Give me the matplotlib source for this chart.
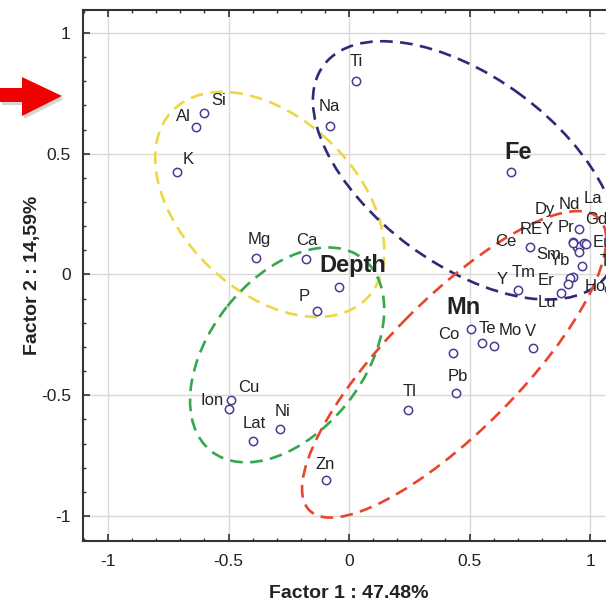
import numpy as np
import matplotlib.pyplot as plt
from matplotlib.patches import Ellipse, Polygon
from matplotlib.ticker import MultipleLocator

plt.rcParams['font.family'] = ['Liberation Sans', 'DejaVu Sans']

# factor loadings (Factor 1, Factor 2)
names = ['Ti', 'Na', 'Si', 'Al', 'K', 'Mg', 'Ca', 'Depth', 'P', 'Cu', 'Ion', 'Lat',
         'Ni', 'Zn', 'Tl', 'Pb', 'Co', 'Mn', 'Te', 'Mo', 'V', 'Fe', 'Ce', 'REY',
         'Pr', 'Dy', 'Nd', 'La', 'Gd', 'Eu', 'Sm', 'Yb', 'Y', 'Tm', 'Er', 'Lu',
         'Ho', 'Tb']
f1 = [0.03, -0.08, -0.60, -0.635, -0.715, -0.385, -0.18, -0.04, -0.135, -0.49, -0.50, -0.40,
      -0.286, -0.095, 0.245, 0.445, 0.43, 0.505, 0.55, 0.60, 0.763, 0.672, 0.75, 0.93,
      0.954, 0.946, 0.959, 0.93, 0.976, 0.985, 0.954, 0.967, 0.70, 0.93, 0.917, 0.88,
      1.08, 0.908]
f2 = [0.80, 0.615, 0.67, 0.61, 0.425, 0.07, 0.065, -0.05, -0.15, -0.52, -0.555, -0.69,
      -0.64, -0.85, -0.56, -0.49, -0.325, -0.225, -0.285, -0.295, -0.304, 0.425, 0.114, 0.135,
      0.188, 0.114, 0.118, 0.131, 0.131, 0.128, 0.093, 0.035, -0.065, -0.01, -0.014, -0.077,
      -0.06, -0.04]

# label offsets in points (dx, dy) from each marker
lab_dx = [0, 0, 10, -9, 8, 2, 1, 10, -9, 13, -12, 1,
          2, -1, 1, 1, -3, -5, 4, 12, -2, 5, -17, -26,
          -9, -23, -8, 14, 9, 12, -22, -16, -11, -36, -17, -10,
          -10, 30]
lab_dy = [14, 14, 9, 8, 9, 13, 13, 15, 10, 9, 6, 13,
          13, 11, 13, 12, 13, 15, 11, 11, 12, 14, 4, 9,
          1, 27, 30, 32, 17, 1, -1.5, 4, 8, 3, -2, -7,
          2, 16]
bold = {'Depth', 'Mn', 'Fe'}

# group ellipses: centre x, centre y, width, height, angle
ell_cx = [-0.329, 0.482, 0.436, -0.257]
ell_cy = [0.290, 0.431, -0.372, -0.333]
ell_w = [1.120, 1.462, 1.704, 1.016]
ell_h = [0.720, 0.777, 0.548, 0.639]
ell_ang = [136.4, 143.6, -134.8, -128.4]
ell_col = ['#ecd846', '#2d2a7a', '#e8452c', '#35a84f']

fig = plt.figure(figsize=(6.06, 6.03), dpi=100)
ax = fig.add_axes([0.1375, 0.1028, 0.876, 0.8806])
ax.set_xlim(-1.1025, 1.1)
ax.set_ylim(-1.1035, 1.095)

ax.xaxis.set_major_locator(MultipleLocator(0.5))
ax.yaxis.set_major_locator(MultipleLocator(0.5))
ax.xaxis.set_minor_locator(MultipleLocator(0.1))
ax.yaxis.set_minor_locator(MultipleLocator(0.1))
ax.xaxis.set_major_formatter(lambda v, p: f'{v:g}')
ax.yaxis.set_major_formatter(lambda v, p: f'{v:g}')
ax.tick_params(which='both', direction='in', top=True, right=True, colors='#333333',
               labelcolor='#222222', labelsize=12.5)
ax.tick_params(which='major', length=5, width=1.2, pad=9)
ax.tick_params(which='minor', length=2.5, width=1)
ax.grid(True, which='major', color='#dcd8d4', lw=1)
ax.set_axisbelow(True)
for s in ax.spines.values():
    s.set_color('#333333')
    s.set_linewidth(1.5)

for cx, cy, w, h, a, col in zip(ell_cx, ell_cy, ell_w, ell_h, ell_ang, ell_col):
    ax.add_patch(Ellipse((cx, cy), w, h, angle=a, fill=False, ec=col, lw=1.9,
                         ls=(0, (4.8, 2.8)), zorder=2))

ax.plot(f1, f2, 'o', ms=6, mfc='white', mec='#4a3a93', mew=1.1, zorder=3)
for n, x, y, dx, dy in zip(names, f1, f2, lab_dx, lab_dy):
    ax.annotate(n, (x, y), xytext=(dx, dy), textcoords='offset points',
                ha='center', va='center', color='#222222',
                fontsize=17 if n in bold else 12,
                fontweight='bold' if n in bold else 'normal', zorder=4)

ax.set_xlabel('Factor 1 : 47.48%', fontsize=14, fontweight='bold', color='#222222', labelpad=12)
ax.set_ylabel('Factor 2 : 14,59%', fontsize=14, fontweight='bold', color='#222222', labelpad=0)

# red arrow at the top left, in figure pixels
arrow_px = np.array([(0, 88), (22, 88), (22, 77), (62, 96), (22, 116), (22, 102), (0, 102)], float)
shadow = arrow_px + [2, 3]
for pts, col, al in [(shadow, '#888888', 0.35), (arrow_px, '#f00000', 1)]:
    fpts = np.c_[pts[:, 0] / 606, 1 - pts[:, 1] / 603]
    fig.patches.append(Polygon(fpts, closed=True, fc=col, ec='none', alpha=al,
                               transform=fig.transFigure))

fig.savefig('out.png')
